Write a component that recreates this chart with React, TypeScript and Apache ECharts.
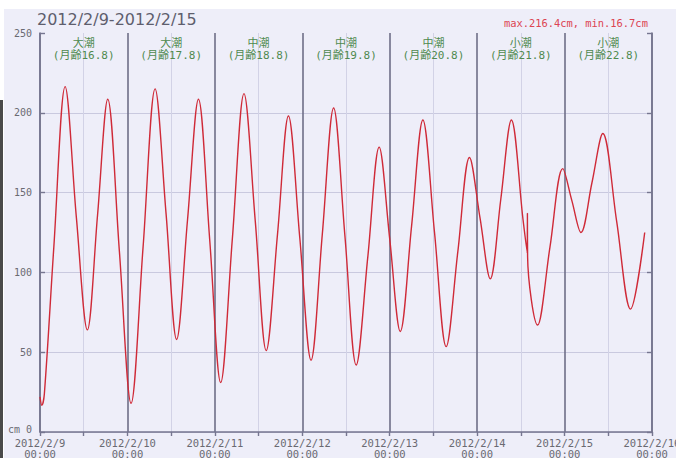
import React, { useEffect, useRef } from "react";
import * as echarts from "echarts";

// hours since 2012/2/9 00:00
const tideHours = [
  0, 0.5, 1.2, 3.8, 6.9, 10.0, 13.0, 15.8, 18.6, 21.8, 25.0, 28.3, 31.6, 34.6, 37.5, 40.5,
  43.5, 46.6, 49.6, 52.8, 56.0, 59.1, 62.1, 65.2, 68.2, 71.3, 74.4, 77.5, 80.6, 83.7, 86.8,
  90.0, 93.1, 96.0, 98.9, 102.0, 105.1, 108.3, 111.5, 114.7, 117.9, 120.8, 123.6, 126.5,
  129.4, 132.6, 133.75, 133.8, 133.85, 136.6, 140.0, 143.5, 146.0, 148.5, 151.5, 154.5,
  158.3, 162.1, 166.0,
];
// tide level (cm)
const tideLevels = [
  22, 16.7, 24, 116, 216.4, 134, 64, 136, 208.5, 113, 18, 116, 215, 137, 58, 133,
  208.5, 120, 31, 121, 212, 132, 51, 124, 198, 122, 45, 124, 203, 123, 42,
  110, 178.5, 121, 63, 129, 195.5, 125, 53.5, 113, 172, 134, 96, 146,
  195.5, 133, 112, 137, 110, 67, 116, 165, 145, 125, 156, 187,
  132, 77, 125,
];

const dayTide = ["大潮", "大潮", "中潮", "中潮", "中潮", "小潮", "小潮"];
const dayMoonAge = ["16.8", "17.8", "18.8", "19.8", "20.8", "21.8", "22.8"];
const yTicks = [0, 50, 100, 150, 200, 250];
const titleText = "2012/2/9-2012/2/15";
const extremaText = "max.216.4cm, min.16.7cm";

const MONO = "'DejaVu Sans Mono','Noto Sans CJK JP',monospace";

export default function App() {
  const ref = useRef<HTMLDivElement>(null);
  useEffect(() => {
    if (!ref.current) return;
    const chart = echarts.init(ref.current, null, { renderer: "svg" });
    const data = tideHours.map((h, i) => [h, tideLevels[i]]);
    const dayLabels = dayTide.map((t, i) => `${t}\n(月齢${dayMoonAge[i]})`);
    chart.setOption({
      animation: false,
      backgroundColor: "transparent",
      grid: { left: 40, right: 24, top: 33, bottom: 26, outerBoundsMode: "none", containLabel: false },
      graphic: [
        {
          type: "text",
          left: 37,
          top: 11,
          style: {
            text: titleText,
            fill: "#5e5e6e",
            font: "16px 'DejaVu Sans', sans-serif",
          },
        },
        {
          type: "text",
          left: 504,
          top: 18,
          style: {
            text: extremaText,
            fill: "#dc4452",
            font: `10.4px ${MONO}`,
          },
        },
      ],
      xAxis: [
        {
          type: "value",
          min: 0,
          max: 168,
          interval: 12,
          axisLine: { show: true, lineStyle: { color: "#767690", width: 1.6 } },
          axisTick: { show: true, length: 4, lineStyle: { color: "#767690", width: 1.4 } },
          axisLabel: {
            color: "#6a6a72",
            fontSize: 10.5,
            fontFamily: MONO,
            lineHeight: 11,
            margin: 5,
            showMaxLabel: true,
            hideOverlap: false,
            formatter: (v: number) =>
              v % 24 === 0 ? `2012/2/${9 + v / 24}\n00:00` : "",
          },
          splitLine: {
            show: true,
            lineStyle: { color: ["transparent", "#d2d2e6"], width: 1 },
          },
        },
        {
          type: "category",
          position: "top",
          data: dayLabels,
          boundaryGap: true,
          axisLine: { show: false },
          axisTick: { show: false },
          axisLabel: {
            inside: true,
            interval: 0,
            margin: 4,
            color: "#4f8a4f",
            fontSize: 11,
            lineHeight: 12.5,
            fontFamily: MONO,
          },
          splitLine: {
            show: true,
            interval: 0,
            lineStyle: { color: "#6e6e88", width: 1.6 },
          },
        },
      ],
      yAxis: [
        {
          type: "value",
          min: yTicks[0],
          max: yTicks[yTicks.length - 1],
          interval: 50,
          axisLine: { show: true, lineStyle: { color: "#767690", width: 1.6 } },
          axisTick: { show: true, inside: true, length: 5, lineStyle: { color: "#767690", width: 1.4 } },
          axisLabel: {
            color: "#6a6a72",
            fontSize: 10,
            fontFamily: MONO,
            margin: 8,
            formatter: (v: number) => (v === 0 ? "{z|cm 0}" : String(v)),
            rich: { z: { fontSize: 10, fontFamily: MONO, color: "#6a6a72", padding: [0, 0, 5, 0] } },
          },
          splitLine: {
            show: true,
            showMaxLine: false,
            lineStyle: { color: "#c9c9df", width: 1 },
          },
        },
        {
          type: "value",
          position: "right",
          min: yTicks[0],
          max: yTicks[yTicks.length - 1],
          interval: 50,
          axisLine: { show: true, lineStyle: { color: "#767690", width: 1.6 } },
          axisTick: { show: true, inside: true, length: 5, lineStyle: { color: "#767690", width: 1.4 } },
          axisLabel: { show: false },
          splitLine: { show: false },
        },
      ],
      series: [
        {
          type: "line",
          xAxisIndex: 0,
          yAxisIndex: 0,
          data,
          smooth: 0.35,
          showSymbol: false,
          symbol: "none",
          lineStyle: { color: "#cf2a38", width: 1.4 },
        },
      ],
    });
    return () => chart.dispose();
  }, []);

  return (
    <div style={{ position: "fixed", left: 0, top: 0, width: 676, height: 458, background: "#ffffff", overflow: "hidden" }}>
      <div style={{ position: "absolute", left: 4, top: 9, width: 672, height: 449, background: "#eeeef9" }} />
      <div style={{ position: "absolute", left: 0, top: 100, width: 3, height: 358, background: "#4a4a4a" }} />
      <div ref={ref} style={{ position: "absolute", left: 0, top: 0, width: 676, height: 458 }} />
    </div>
  );
}
